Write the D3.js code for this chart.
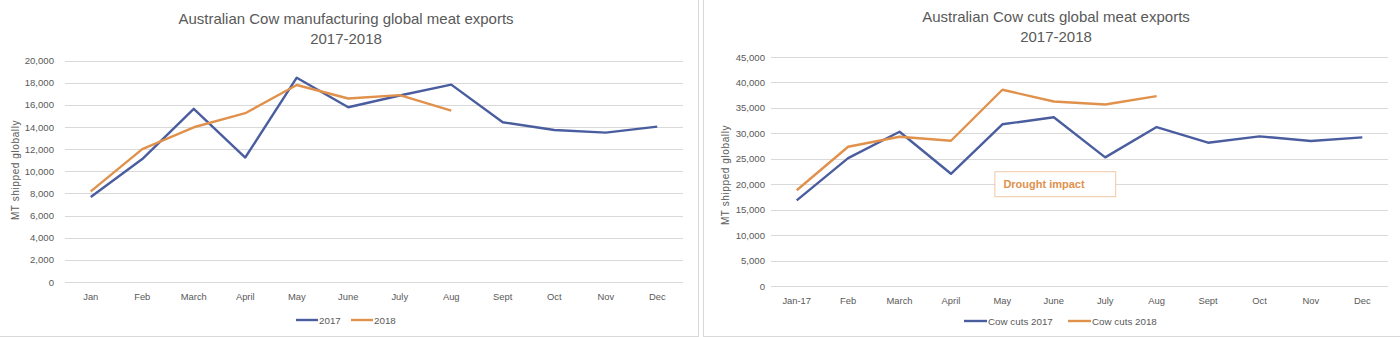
<!DOCTYPE html>
<html>
<head>
<meta charset="utf-8">
<script src="https://cdn.jsdelivr.net/npm/d3@7"></script>
<style>
  html, body { margin: 0; padding: 0; background: #ffffff; }
  svg { display: block; font-family: "Liberation Sans", Arial, sans-serif; }
</style>
</head>
<body>
<svg id="chart" width="1400" height="337"></svg>
<script>
// Month labels for each panel
const monthsLeft = ["Jan", "Feb", "March", "April", "May", "June", "July", "Aug", "Sept", "Oct", "Nov", "Dec"];
const monthsRight = ["Jan-17", "Feb", "March", "April", "May", "June", "July", "Aug", "Sept", "Oct", "Nov", "Dec"];

// Cow manufacturing exports (MT)
const manuf2017 = [7670, 11100, 15640, 11240, 18450, 15780, 16840, 17820, 14420, 13730, 13490, 14030];
const manuf2018 = [8180, 12000, 13970, 15240, 17790, 16570, 16870, 15470];

// Cow cuts exports (MT)
const cuts2017 = [16840, 25140, 30320, 22050, 31780, 33150, 25280, 31240, 28160, 29410, 28480, 29210];
const cuts2018 = [18820, 27370, 29330, 28540, 38560, 36250, 35660, 37300];

// Y-axis tick values
const ticksLeft = [0, 2000, 4000, 6000, 8000, 10000, 12000, 14000, 16000, 18000, 20000];
const ticksRight = [0, 5000, 10000, 15000, 20000, 25000, 30000, 35000, 40000, 45000];

const BLUE = "#4a5d9f";
const ORANGE = "#e0914c";
const TEXT = "#595959";
const GRID = "#d9d9d9";

const svg = d3.select("#chart");
const fmt = d3.format(",");

function drawPanel(cfg) {
  const g = svg.append("g");

  // panel frame
  g.append("rect")
    .attr("x", cfg.frame[0] + 0.5).attr("y", cfg.frame[1] + 0.5)
    .attr("width", cfg.frame[2]).attr("height", cfg.frame[3])
    .attr("fill", "#ffffff").attr("stroke", GRID).attr("stroke-width", 1);

  const x = d3.scaleBand().domain(cfg.months).range(cfg.xRange);
  const y = d3.scaleLinear().domain(cfg.yDomain).range(cfg.yRange);
  const cx = d => x(d) + x.bandwidth() / 2;

  // horizontal gridlines
  g.append("g").selectAll("line").data(cfg.ticks).join("line")
    .attr("x1", cfg.xRange[0]).attr("x2", cfg.xRange[1])
    .attr("y1", d => Math.round(y(d)) + 0.5).attr("y2", d => Math.round(y(d)) + 0.5)
    .attr("stroke", GRID).attr("stroke-width", 1);

  // y-axis tick labels
  const yAxis = d3.axisLeft(y).tickValues(cfg.ticks).tickFormat(fmt).tickSize(0).tickPadding(0);
  const ya = g.append("g").attr("transform", `translate(${cfg.xRange[0] - cfg.yLabelGap},0)`).call(yAxis);
  ya.select(".domain").remove();
  ya.selectAll("text").attr("fill", TEXT).style("font-size", "9.6px").style("font-family", "Liberation Sans, Arial, sans-serif");

  // x-axis tick labels
  const xAxis = d3.axisBottom(x).tickSize(0).tickPadding(0);
  const xa = g.append("g").attr("transform", `translate(0,${cfg.yRange[0] + cfg.xLabelGap})`).call(xAxis);
  xa.select(".domain").remove();
  xa.selectAll("text").attr("fill", TEXT).style("font-size", "9.4px").style("font-family", "Liberation Sans, Arial, sans-serif");

  // y-axis title
  g.append("text")
    .attr("transform", `translate(${cfg.yTitlePos[0]},${cfg.yTitlePos[1]}) rotate(-90)`)
    .attr("text-anchor", "middle").attr("fill", TEXT)
    .style("font-size", "10px").style("letter-spacing", "0.6px").text("MT shipped globally");

  // chart title (two lines)
  cfg.title.forEach((t, i) => {
    g.append("text")
      .attr("x", cfg.titleX).attr("y", cfg.titleY + i * 20)
      .attr("text-anchor", "middle").attr("fill", TEXT)
      .style("font-size", "15px").text(t);
  });

  // series lines
  const line = d3.line().x((d, i) => cx(cfg.months[i])).y(d => y(d));
  cfg.series.forEach(s => {
    g.append("path").datum(s.values)
      .attr("d", line).attr("fill", "none")
      .attr("stroke", s.color).attr("stroke-width", 2.4)
      .attr("stroke-linejoin", "round");
  });

  // legend
  cfg.legend.forEach(l => {
    g.append("line")
      .attr("x1", l.x).attr("x2", l.x + l.len)
      .attr("y1", cfg.legendY).attr("y2", cfg.legendY)
      .attr("stroke", l.color).attr("stroke-width", 2.4);
    g.append("text")
      .attr("x", l.x + l.len + 1).attr("y", cfg.legendY + 3.5)
      .attr("fill", TEXT).style("font-size", "9.8px").text(l.label);
  });

  return { g, x, y, cx };
}

// Left panel: manufacturing
drawPanel({
  frame: [-1, -1, 699, 337],
  months: monthsLeft,
  xRange: [65, 683],
  yDomain: [0, 20000],
  yRange: [282, 60.5],
  ticks: ticksLeft,
  yLabelGap: 11,
  xLabelGap: 11,
  yTitlePos: [19, 170],
  title: ["Australian Cow manufacturing global meat exports", "2017-2018"],
  titleX: 346,
  titleY: 24,
  series: [
    { values: manuf2017, color: BLUE },
    { values: manuf2018, color: ORANGE }
  ],
  legendY: 320,
  legend: [
    { x: 296, len: 22, color: BLUE, label: "2017" },
    { x: 351, len: 22, color: ORANGE, label: "2018" }
  ]
});

// Right panel: cuts
const right = drawPanel({
  frame: [703, -1, 700, 337],
  months: monthsRight,
  xRange: [771, 1388],
  yDomain: [0, 45000],
  yRange: [286, 57],
  ticks: ticksRight,
  yLabelGap: 6,
  xLabelGap: 11,
  yTitlePos: [729, 175],
  title: ["Australian Cow cuts global meat exports", "2017-2018"],
  titleX: 1056,
  titleY: 22,
  series: [
    { values: cuts2017, color: BLUE },
    { values: cuts2018, color: ORANGE }
  ],
  legendY: 321,
  legend: [
    { x: 964, len: 23, color: BLUE, label: "Cow cuts 2017" },
    { x: 1068, len: 23, color: ORANGE, label: "Cow cuts 2018" }
  ]
});

// "Drought impact" annotation box
const boxLeft = right.cx("May") - 8;
const boxRight = right.cx("July") + 10;
const boxMid = right.y(20000);
right.g.append("rect")
  .attr("x", boxLeft + 0.5).attr("y", boxMid - 12.5)
  .attr("width", boxRight - boxLeft).attr("height", 25)
  .attr("fill", "#ffffff").attr("stroke", "#f0c8a6").attr("stroke-width", 1);
right.g.append("text")
  .attr("x", boxLeft + 9).attr("y", boxMid + 4)
  .attr("fill", "#e0914c").style("font-size", "11px").style("font-weight", "bold")
  .text("Drought impact");
</script>
</body>
</html>
